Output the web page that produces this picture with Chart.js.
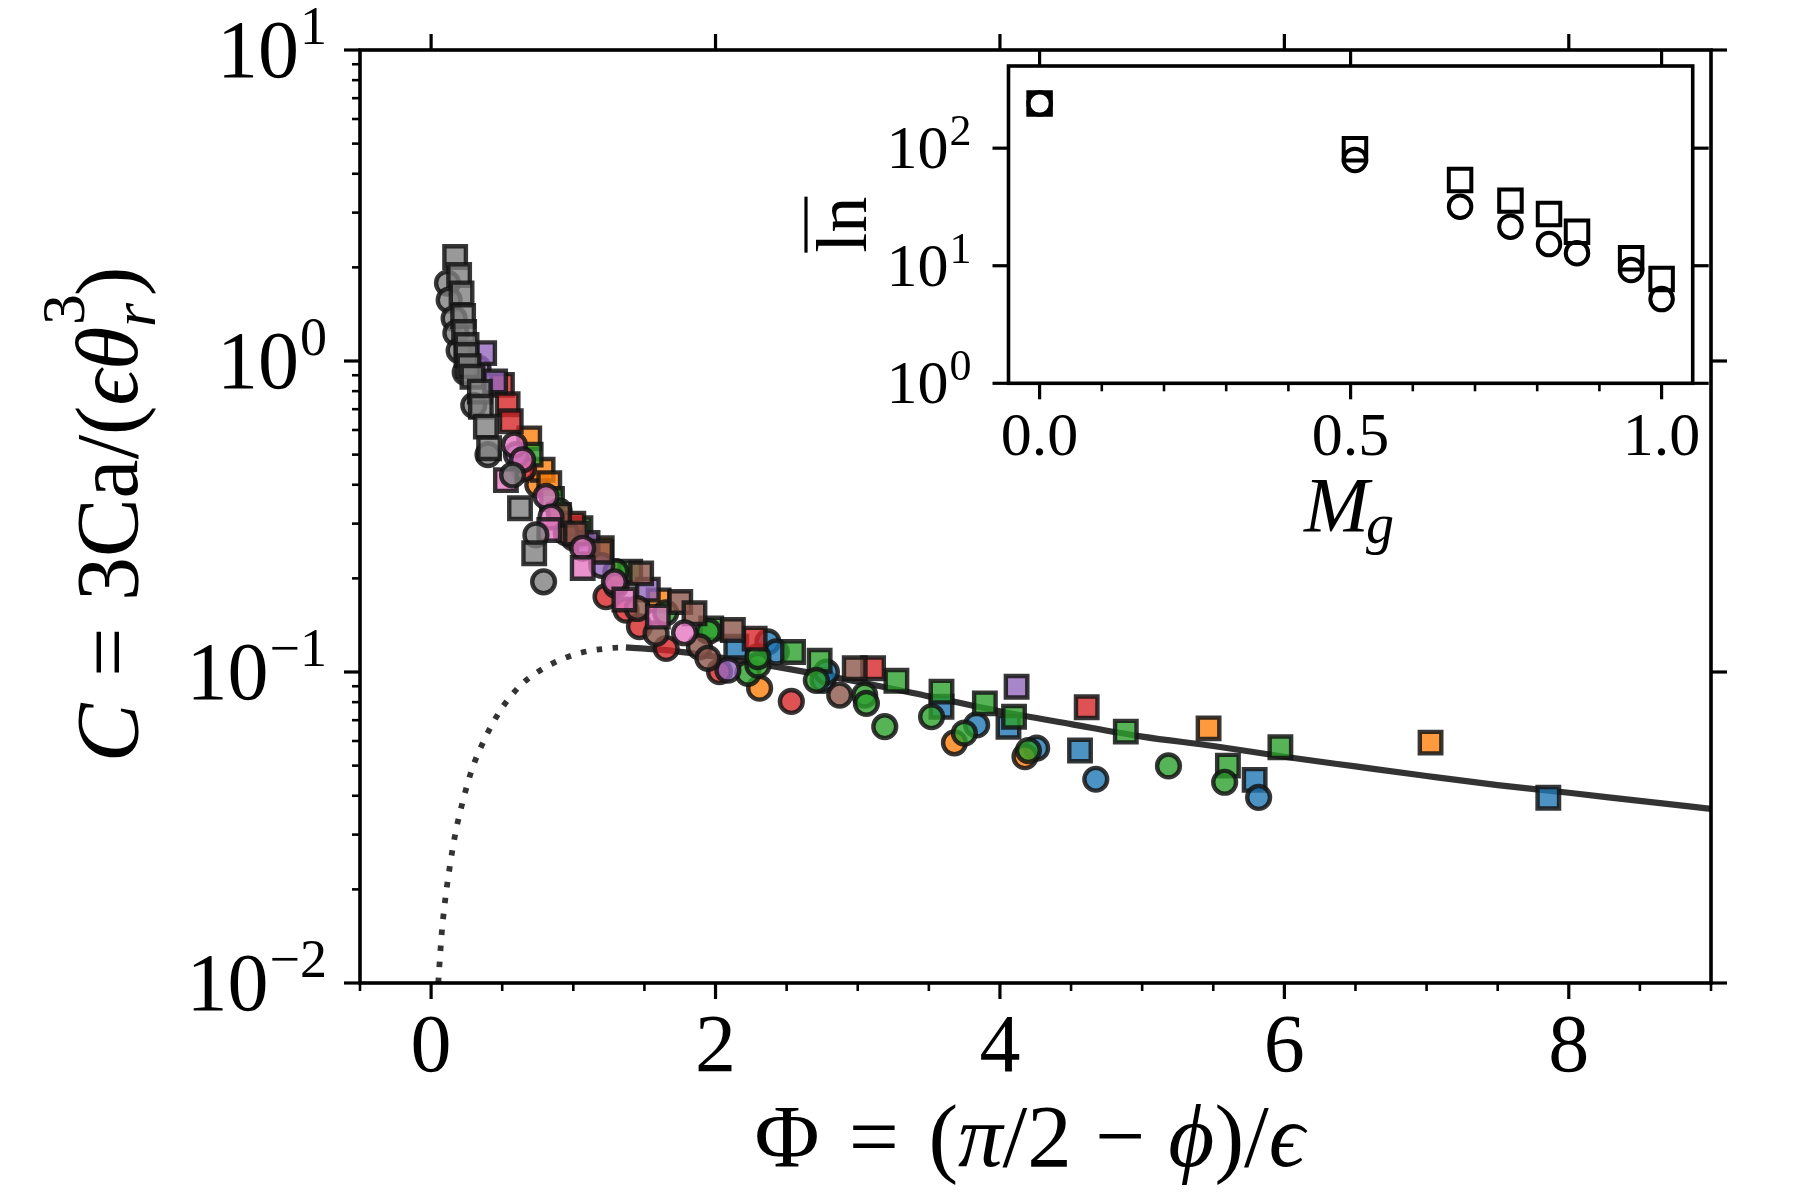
<!DOCTYPE html>
<html><head><meta charset="utf-8">
<script src="https://cdn.jsdelivr.net/npm/chart.js@4.4.1/dist/chart.umd.min.js"></script>
<style>
html,body{margin:0;padding:0;background:#fff;overflow:hidden}
#wrap{position:relative;width:1800px;height:1200px}
canvas{position:absolute;left:0;top:0}
</style></head><body>
<div id="wrap">
<canvas id="main" width="1800" height="1200" style="width:1800px;height:1200px"></canvas>
<canvas id="inset" width="1800" height="1200" style="width:1800px;height:1200px"></canvas>
</div>
<script>
// ---------- main panel data: [Phi, C] ----------
const blueCircles   = [[2.368,0.125],[2.427,0.116],[2.756,0.094],[2.78,0.100],[3.836,0.0676],[4.258,0.0569],[4.674,0.0452],[5.819,0.0395]];
const blueSquares   = [[2.146,0.1205],[3.589,0.0773],[4.06,0.0667],[4.563,0.0559],[5.791,0.045],[7.856,0.0394]];
const orangeCircles = [[0.75,0.40],[1.3,0.21],[2.31,0.0887],[3.68,0.0592],[4.176,0.0534]];
const orangeSquares = [[0.69,0.564],[0.784,0.447],[0.831,0.405],[1.2,0.25],[1.6,0.17],[5.467,0.0659],[7.028,0.0593]];
const greenCircles  = [[0.9,0.33],[1.3,0.21],[1.65,0.155],[1.95,0.135],[2.228,0.099],[2.298,0.1052],[2.298,0.112],[2.709,0.094],[3.049,0.0843],[3.061,0.0793],[3.19,0.0667],[3.519,0.0718],[3.75,0.0636],[4.2,0.0559],[5.185,0.0499],[5.58,0.0442]];
const greenSquares  = [[0.7,0.5],[0.85,0.36],[1.05,0.29],[1.4,0.21],[1.97,0.138],[2.545,0.116],[2.732,0.1087],[3.272,0.0937],[3.589,0.0865],[3.894,0.0793],[4.099,0.0718],[4.885,0.0643],[5.603,0.050],[5.972,0.0573]];
const redCircles    = [[0.65,0.45],[1.0,0.27],[1.23,0.1746],[1.371,0.158],[1.465,0.140],[1.653,0.119],[2.028,0.1002],[2.533,0.0804]];
const redSquares    = [[0.498,0.838],[0.538,0.726],[0.56,0.64],[1.0,0.30],[2.275,0.128],[3.108,0.1028],[4.61,0.077]];
const purpleCircles = [[0.33,0.95],[0.6,0.5],[1.2,0.22],[2.087,0.1014]];
const purpleSquares = [[0.373,1.06],[0.45,0.86],[1.1,0.26],[1.524,0.184],[4.117,0.0897]];
const brownCircles  = [[0.95,0.28],[1.3,0.19],[1.45,0.16],[1.582,0.133],[1.887,0.1205],[1.946,0.1107],[2.873,0.0843]];
const brownSquares  = [[0.9,0.32],[1.019,0.279],[1.195,0.2437],[1.477,0.2075],[1.752,0.168],[1.852,0.1545],[2.122,0.1365],[2.979,0.1028]];
const pinkCircles   = [[0.585,0.537],[0.643,0.481],[0.808,0.367],[0.843,0.315],[1.066,0.250],[1.289,0.195],[1.782,0.1337]];
const pinkSquares   = [[0.526,0.414],[0.831,0.286],[1.066,0.216],[1.359,0.171],[1.594,0.1507]];
const grayCircles   = [[0.115,1.78],[0.127,1.57],[0.162,1.37],[0.174,1.23],[0.197,1.08],[0.24,0.92],[0.3,0.72],[0.4,0.5],[0.573,0.43],[0.737,0.276],[0.791,0.195]];
const graySquares   = [[0.169,2.16],[0.197,1.89],[0.214,1.65],[0.225,1.395],[0.232,1.24],[0.249,1.126],[0.249,1.045],[0.263,0.963],[0.291,0.890],[0.343,0.797],[0.35,0.713],[0.385,0.615],[0.408,0.524],[0.625,0.336],[0.725,0.241]];

// model curves
const curveSolid  = [[1.37,0.120],[1.7,0.117],[2.0,0.112],[2.5,0.1025],[3.0,0.093],[3.5,0.0835],[4.0,0.0748],[4.5,0.068],[5.0,0.062],[5.5,0.0578],[6.0,0.0534],[6.5,0.0497],[7.0,0.0463],[7.5,0.0433],[8.0,0.0409],[8.5,0.0385],[9.0,0.0363]];
const curveDotted = [[0.05,0.0100],[0.075,0.0145],[0.099,0.0185],[0.131,0.0236],[0.169,0.030],[0.221,0.0381],[0.286,0.0484],[0.376,0.0608],[0.486,0.0751],[0.631,0.0908],[0.819,0.1045],[1.038,0.1148],[1.265,0.1194],[1.37,0.120]];

// ---------- inset data ----------
const insetMg      = [0.0, 0.507, 0.676, 0.757, 0.819, 0.864, 0.951, 1.0];
const insetSquares = [240, 98, 53.7, 35.8, 27.6, 19.5, 11.6, 7.7];
const insetCircles = [240, 79.5, 31.8, 21.5, 15.3, 12.8, 9.2, 5.2];

// ---------- ticks ----------
const mainXTicks  = [0, 2, 4, 6, 8];
const mainXLabels = ['0', '2', '4', '6', '8'];
const mainYTicks  = [0.01, 0.1, 1, 10];
const mainYExps   = ['\u22122', '\u22121', '0', '1'];
const insetXTicks  = [0, 0.5, 1.0];
const insetXLabels = ['0.0', '0.5', '1.0'];
const insetYTicks  = [1, 10, 100];
const insetYExps   = ['0', '1', '2'];

const TAB = {blue:'31,119,180', orange:'255,127,14', green:'44,160,44', red:'214,39,40',
             purple:'148,103,189', brown:'140,86,75', pink:'227,119,194', gray:'127,127,127'};
const FAM = "'Liberation Serif','DejaVu Serif','Times New Roman',serif";
const fnt = (size, it) => (it ? 'italic ' : '') + size + 'px ' + FAM;

function minorLinear(lo, hi, step, majors) {
  const out = [];
  for (let k = Math.round(lo / step); k * step <= hi + 1e-9; k++) {
    const v = +(k * step).toFixed(6);
    if (!majors.some(m => Math.abs(m - v) < 1e-9)) out.push(v);
  }
  return out;
}
function minorLog(lo, hi) {
  const out = [];
  for (let e = Math.floor(Math.log10(lo)); e < Math.ceil(Math.log10(hi)); e++)
    for (let k = 2; k <= 9; k++) { const v = k * Math.pow(10, e); if (v > lo && v < hi) out.push(v); }
  return out;
}

// rich text runs
function runsWidth(ctx, runs, size) {
  let w = 0;
  for (const r of runs) {
    if (r.g) { w += r.g * size; continue; }
    if (r.stack) {
      ctx.font = fnt(size * 0.7, false); const a = ctx.measureText(r.stack.sup).width;
      ctx.font = fnt(size * 0.7, true);  const b = ctx.measureText(r.stack.sub).width;
      w += Math.max(a, b); continue;
    }
    ctx.font = fnt(size * (r.s || 1), r.it); w += ctx.measureText(r.t).width;
  }
  return w;
}
function drawRuns(ctx, runs, cx, y, size) {
  let x = cx - runsWidth(ctx, runs, size) / 2;
  ctx.textAlign = 'left'; ctx.textBaseline = 'alphabetic';
  for (const r of runs) {
    if (r.g) { x += r.g * size; continue; }
    if (r.stack) {
      ctx.font = fnt(size * 0.7, false); const a = ctx.measureText(r.stack.sup).width;
      ctx.fillText(r.stack.sup, x + 2, y - 0.6 * size);
      ctx.font = fnt(size * 0.7, true); const b = ctx.measureText(r.stack.sub).width;
      ctx.fillText(r.stack.sub, x, y + 0.2 * size);
      x += Math.max(a, b); continue;
    }
    ctx.font = fnt(size * (r.s || 1), r.it);
    ctx.fillText(r.t, x, y + (r.dy || 0) * size);
    x += ctx.measureText(r.t).width;
  }
}

function drawFrame(chart, spec) {
  const {ctx, chartArea: a} = chart; const xs = chart.scales.x, ys = chart.scales.y;
  ctx.save(); ctx.strokeStyle = '#000'; ctx.lineCap = 'butt';
  const seg = (x1, y1, x2, y2, w) => { ctx.lineWidth = w; ctx.beginPath(); ctx.moveTo(x1, y1); ctx.lineTo(x2, y2); ctx.stroke(); };
  for (const v of spec.xMajor) {
    const p = xs.getPixelForValue(v);
    seg(p, a.bottom, p, a.bottom + spec.L, spec.wM);
    seg(p, a.top, p, a.top - spec.L, spec.wM);
  }
  for (const v of spec.xMinor) { const p = xs.getPixelForValue(v); seg(p, a.bottom, p, a.bottom + spec.l, spec.wm); }
  for (const v of spec.yMajor) {
    const p = ys.getPixelForValue(v);
    seg(a.left, p, a.left - spec.L, p, spec.wM);
    seg(a.right, p, a.right + spec.L, p, spec.wM);
  }
  for (const v of spec.yMinor) { const p = ys.getPixelForValue(v); seg(a.left, p, a.left - spec.l, p, spec.wm); }
  ctx.lineWidth = spec.spine;
  ctx.strokeRect(a.left, a.top, a.right - a.left, a.bottom - a.top);
  ctx.restore();
}
function drawPow(ctx, rightX, py, exp, size, supSize, baseDy, supDy) {
  ctx.fillStyle = '#000'; ctx.textAlign = 'right'; ctx.textBaseline = 'alphabetic';
  ctx.font = fnt(supSize); const ws = ctx.measureText(exp).width;
  ctx.fillText(exp, rightX, py + supDy);
  ctx.font = fnt(size); ctx.fillText('10', rightX - ws - 1, py + baseDy);
}

// ---------- main chart ----------
const toXY = pairs => pairs.map(p => ({x: p[0], y: p[1]}));
function pts(pairs, col, shape) {
  const r = shape === 'rect' ? 15.2 : 11.4;
  return {type: 'scatter', data: toXY(pairs), pointStyle: shape, pointRadius: r, pointHoverRadius: r,
    backgroundColor: 'rgba(' + TAB[col] + ',0.8)', borderColor: 'rgba(20,20,20,0.85)', borderWidth: 4.4, showLine: false};
}
const layers = [
  {type: 'line', data: toXY(curveDotted), borderColor: 'rgba(0,0,0,0.8)', borderWidth: 5.8, borderDash: [5.5, 10.5],
   borderCapStyle: 'butt', pointRadius: 0, cubicInterpolationMode: 'monotone', fill: false},
  {type: 'line', data: toXY(curveSolid), borderColor: 'rgba(0,0,0,0.8)', borderWidth: 6.2,
   pointRadius: 0, cubicInterpolationMode: 'monotone', fill: false},
  pts(blueSquares, 'blue', 'rect'), pts(blueCircles, 'blue', 'circle'),
  pts(orangeCircles, 'orange', 'circle'), pts(orangeSquares, 'orange', 'rect'),
  pts(greenSquares, 'green', 'rect'), pts(greenCircles, 'green', 'circle'),
  pts(redCircles, 'red', 'circle'), pts(redSquares, 'red', 'rect'),
  pts(purpleCircles, 'purple', 'circle'), pts(purpleSquares, 'purple', 'rect'),
  pts(brownCircles, 'brown', 'circle'), pts(brownSquares, 'brown', 'rect'),
  pts(pinkCircles, 'pink', 'circle'), pts(pinkSquares, 'pink', 'rect'),
  pts(grayCircles, 'gray', 'circle'), pts(graySquares, 'gray', 'rect')
];
layers.forEach((d, i) => d.order = layers.length - i);

const mainDeco = {
  id: 'mainDeco',
  beforeDraw(chart) { const c = chart.ctx; c.save(); c.fillStyle = '#fff'; c.fillRect(0, 0, chart.width, chart.height); c.restore(); },
  afterDraw(chart) {
    const ctx = chart.ctx, a = chart.chartArea, xs = chart.scales.x, ys = chart.scales.y;
    drawFrame(chart, {xMajor: mainXTicks, xMinor: minorLinear(-0.5, 9, 0.5, mainXTicks),
      yMajor: mainYTicks, yMinor: minorLog(0.01, 10), L: 16, l: 8, wM: 3.2, wm: 2.6, spine: 3.6});
    ctx.save(); ctx.fillStyle = '#000';
    ctx.font = fnt(82); ctx.textAlign = 'center'; ctx.textBaseline = 'alphabetic';
    mainXTicks.forEach((v, i) => ctx.fillText(mainXLabels[i], xs.getPixelForValue(v), a.bottom + 88));
    mainYTicks.forEach((v, i) => drawPow(ctx, a.left - 33, ys.getPixelForValue(v), mainYExps[i], 82, 54, 27, -6));
    // x title
    drawRuns(ctx, [{t: '\u03A6'}, {g: 0.33}, {t: '='}, {g: 0.33}, {t: '('}, {t: '\u03C0', it: true}, {t: '/2'},
      {g: 0.26}, {t: '\u2212'}, {g: 0.26}, {t: '\u03D5', it: true}, {t: ')/'}, {t: '\u03F5', it: true}],
      (a.left + a.right) / 2 - 6, 1166, 89);
    // y title
    ctx.save(); ctx.translate(137, (a.top + a.bottom) / 2 - 2); ctx.rotate(-Math.PI / 2);
    drawRuns(ctx, [{t: 'C', it: true}, {g: 0.3}, {t: '='}, {g: 0.3}, {t: '3Ca/('}, {t: '\u03F5\u03B8', it: true},
      {stack: {sup: '3', sub: 'r'}}, {t: ')'}], 0, 0, 88);
    ctx.restore();
    ctx.restore();
  }
};

new Chart(document.getElementById('main'), {
  type: 'scatter',
  data: {datasets: layers},
  options: {
    responsive: false, animation: false, events: [],
    layout: {padding: {left: 360, top: 50, right: 89, bottom: 217}},
    plugins: {legend: {display: false}, tooltip: {enabled: false}},
    scales: {
      x: {type: 'linear', min: -0.5, max: 9, display: false},
      y: {type: 'logarithmic', min: 0.01, max: 10, display: false}
    }
  },
  plugins: [mainDeco]
});

// ---------- inset chart ----------
const insetDeco = {
  id: 'insetDeco',
  beforeDatasetsDraw(chart) { const c = chart.ctx, a = chart.chartArea; c.save(); c.fillStyle = '#fff'; c.fillRect(a.left, a.top, a.right - a.left, a.bottom - a.top); c.restore(); },
  afterDraw(chart) {
    const ctx = chart.ctx, a = chart.chartArea, xs = chart.scales.x, ys = chart.scales.y;
    drawFrame(chart, {xMajor: insetXTicks, xMinor: minorLinear(0, 1.0, 0.1, insetXTicks),
      yMajor: insetYTicks, yMinor: [], L: 16, l: 8, wM: 3.2, wm: 2.6, spine: 3.6});
    ctx.save(); ctx.fillStyle = '#000';
    ctx.font = fnt(62); ctx.textAlign = 'center'; ctx.textBaseline = 'alphabetic';
    insetXTicks.forEach((v, i) => ctx.fillText(insetXLabels[i], xs.getPixelForValue(v), a.bottom + 72));
    insetYTicks.forEach((v, i) => drawPow(ctx, a.left - 37, ys.getPixelForValue(v), insetYExps[i], 62, 44, 20, -3));
    // x title M_g
    const cx = (a.left + a.right) / 2;
    ctx.font = fnt(78, true); const wM = ctx.measureText('M').width;
    ctx.font = fnt(56, true); const wg = ctx.measureText('g').width;
    const x0 = cx - (wM + wg) / 2;
    ctx.textAlign = 'left';
    ctx.font = fnt(78, true); ctx.fillText('M', x0, 531);
    ctx.font = fnt(56, true); ctx.fillText('g', x0 + wM - 3, 543);
    // y title: overline ln
    ctx.save(); ctx.translate(866, (a.top + a.bottom) / 2); ctx.rotate(-Math.PI / 2);
    ctx.font = fnt(72); ctx.textAlign = 'center';
    const wl = ctx.measureText('ln').width;
    ctx.fillText('ln', 0, 0);
    ctx.strokeStyle = '#000'; ctx.lineWidth = 3.2;
    ctx.beginPath(); ctx.moveTo(-wl / 2, -60); ctx.lineTo(wl / 2, -60); ctx.stroke();
    ctx.restore();
    ctx.restore();
  }
};
const insetStyle = (shape) => ({
  pointStyle: shape, pointRadius: shape === 'rect' ? 15.9 : 11.25, pointHoverRadius: shape === 'rect' ? 15.9 : 11.25,
  backgroundColor: 'rgba(0,0,0,0)', borderColor: '#000', borderWidth: 4, showLine: false
});
new Chart(document.getElementById('inset'), {
  type: 'scatter',
  data: {datasets: [
    Object.assign({data: insetMg.map((x, i) => ({x, y: insetCircles[i]}))}, insetStyle('circle')),
    Object.assign({data: insetMg.map((x, i) => ({x, y: insetSquares[i]}))}, insetStyle('rect'))
  ]},
  options: {
    responsive: false, animation: false, events: [],
    layout: {padding: {left: 1008.5, top: 66, right: 107.3, bottom: 816.7}},
    plugins: {legend: {display: false}, tooltip: {enabled: false}},
    scales: {
      x: {type: 'linear', min: -0.05, max: 1.05, display: false},
      y: {type: 'logarithmic', min: 1, max: 500, display: false}
    }
  },
  plugins: [insetDeco]
});
</script>
</body></html>
